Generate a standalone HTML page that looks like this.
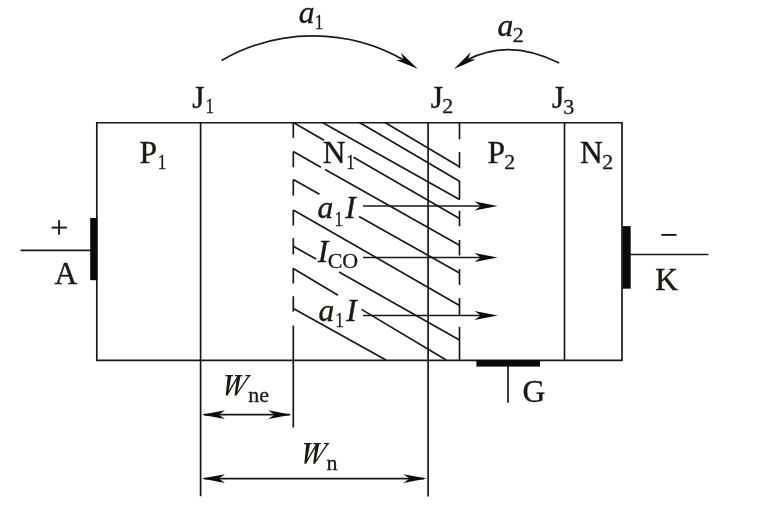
<!DOCTYPE html>
<html><head><meta charset="utf-8"><style>
html,body{margin:0;padding:0;background:#fff;}
svg{display:block;will-change:transform;}
text{font-family:"Liberation Serif",serif;fill:#1a1a10;stroke:#1a1a10;stroke-width:0.4px;}
text.s{stroke-width:0.3px;}
</style></head><body>
<svg width="769" height="517" viewBox="0 0 769 517">
<rect width="769" height="517" fill="#fff"/>
<line x1="96.8" y1="122.75" x2="622.0" y2="122.75" stroke="#1a1a12" stroke-width="1.7"/>
<line x1="96.8" y1="360.35" x2="622.0" y2="360.35" stroke="#1a1a12" stroke-width="1.7"/>
<line x1="96.8" y1="122.0" x2="96.8" y2="361.1" stroke="#1a1a12" stroke-width="1.7"/>
<line x1="622.0" y1="122.0" x2="622.0" y2="361.1" stroke="#1a1a12" stroke-width="1.7"/>
<line x1="200.6" y1="122.75" x2="200.6" y2="496.2" stroke="#1a1a12" stroke-width="1.7"/>
<line x1="428.1" y1="122.75" x2="428.1" y2="496.4" stroke="#1a1a12" stroke-width="1.7"/>
<line x1="564.5" y1="122.75" x2="564.5" y2="360.35" stroke="#1a1a12" stroke-width="1.7"/>
<line x1="293.3" y1="122.4" x2="293.3" y2="137.8" stroke="#1a1a12" stroke-width="1.7"/>
<line x1="293.3" y1="151.6" x2="293.3" y2="167.3" stroke="#1a1a12" stroke-width="1.7"/>
<line x1="293.3" y1="179.6" x2="293.3" y2="195.7" stroke="#1a1a12" stroke-width="1.7"/>
<line x1="293.3" y1="209.9" x2="293.3" y2="225.5" stroke="#1a1a12" stroke-width="1.7"/>
<line x1="293.3" y1="238.2" x2="293.3" y2="254.4" stroke="#1a1a12" stroke-width="1.7"/>
<line x1="293.3" y1="267.9" x2="293.3" y2="283.5" stroke="#1a1a12" stroke-width="1.7"/>
<line x1="293.3" y1="296.2" x2="293.3" y2="311.7" stroke="#1a1a12" stroke-width="1.7"/>
<line x1="293.3" y1="325.6" x2="293.3" y2="427.5" stroke="#1a1a12" stroke-width="1.7"/>
<line x1="459.5" y1="122.4" x2="459.5" y2="139.4" stroke="#1a1a12" stroke-width="1.7"/>
<line x1="459.5" y1="152.1" x2="459.5" y2="168.2" stroke="#1a1a12" stroke-width="1.7"/>
<line x1="459.5" y1="181.0" x2="459.5" y2="199.6" stroke="#1a1a12" stroke-width="1.7"/>
<line x1="459.5" y1="210.8" x2="459.5" y2="226.3" stroke="#1a1a12" stroke-width="1.7"/>
<line x1="459.5" y1="239.9" x2="459.5" y2="255.5" stroke="#1a1a12" stroke-width="1.7"/>
<line x1="459.5" y1="269.0" x2="459.5" y2="284.9" stroke="#1a1a12" stroke-width="1.7"/>
<line x1="459.5" y1="298.1" x2="459.5" y2="315.4" stroke="#1a1a12" stroke-width="1.7"/>
<line x1="459.5" y1="326.9" x2="459.5" y2="360.0" stroke="#1a1a12" stroke-width="1.7"/>
<line x1="385.0" y1="122.4" x2="459.5" y2="166.8" stroke="#1a1a12" stroke-width="1.7"/>
<line x1="359.5" y1="122.4" x2="459.5" y2="181.2" stroke="#1a1a12" stroke-width="1.7"/>
<line x1="322.4" y1="122.4" x2="459.5" y2="199.6" stroke="#1a1a12" stroke-width="1.7"/>
<line x1="293.3" y1="122.4" x2="324.0" y2="140.17" stroke="#1a1a12" stroke-width="1.7"/>
<line x1="353.5" y1="157.25" x2="459.5" y2="218.6" stroke="#1a1a12" stroke-width="1.7"/>
<line x1="293.3" y1="151.6" x2="320.9" y2="167.16" stroke="#1a1a12" stroke-width="1.7"/>
<line x1="325.1" y1="169.53" x2="459.5" y2="245.3" stroke="#1a1a12" stroke-width="1.7"/>
<line x1="293.3" y1="179.6" x2="319.5" y2="194.32" stroke="#1a1a12" stroke-width="1.7"/>
<line x1="359.0" y1="216.52" x2="459.5" y2="273.0" stroke="#1a1a12" stroke-width="1.7"/>
<line x1="293.3" y1="209.9" x2="459.5" y2="305.5" stroke="#1a1a12" stroke-width="1.7"/>
<line x1="293.3" y1="246.2" x2="316.1" y2="259.07" stroke="#1a1a12" stroke-width="1.7"/>
<line x1="339.0" y1="271.99" x2="459.5" y2="340.0" stroke="#1a1a12" stroke-width="1.7"/>
<line x1="293.3" y1="268.6" x2="338.0" y2="295.32" stroke="#1a1a12" stroke-width="1.7"/>
<line x1="361.5" y1="309.37" x2="446.2" y2="360.0" stroke="#1a1a12" stroke-width="1.7"/>
<line x1="293.3" y1="308.6" x2="386.0" y2="360.0" stroke="#1a1a12" stroke-width="1.7"/>
<line x1="363.0" y1="206.0" x2="485.0" y2="206.0" stroke="#1a1a12" stroke-width="1.7"/>
<path d="M497.70,206.00 L474.50,210.40 L480.70,206.00 L474.50,201.60 Z" fill="#0e0e08"/>
<line x1="363.0" y1="257.5" x2="485.0" y2="257.5" stroke="#1a1a12" stroke-width="1.7"/>
<path d="M497.70,257.50 L474.50,261.90 L480.70,257.50 L474.50,253.10 Z" fill="#0e0e08"/>
<line x1="363.0" y1="315.5" x2="485.0" y2="315.5" stroke="#1a1a12" stroke-width="1.7"/>
<path d="M497.70,315.50 L474.50,319.90 L480.70,315.50 L474.50,311.10 Z" fill="#0e0e08"/>
<line x1="204" y1="414.7" x2="290" y2="414.7" stroke="#1a1a12" stroke-width="1.7"/>
<path d="M201.80,414.70 L225.00,410.30 L218.80,414.70 L225.00,419.10 Z" fill="#0e0e08"/>
<path d="M291.40,414.70 L268.20,419.10 L274.40,414.70 L268.20,410.30 Z" fill="#0e0e08"/>
<line x1="204" y1="478.6" x2="424" y2="478.6" stroke="#1a1a12" stroke-width="1.7"/>
<path d="M201.80,478.60 L225.00,474.20 L218.80,478.60 L225.00,483.00 Z" fill="#0e0e08"/>
<path d="M426.60,478.60 L403.40,483.00 L409.60,478.60 L403.40,474.20 Z" fill="#0e0e08"/>
<path d="M221.6,60.5 A182.5,182.5 0 0 1 405.5,61.1" fill="none" stroke="#1a1a12" stroke-width="1.7"/>
<path d="M418.00,68.90 L396.10,60.08 L403.69,59.72 L400.85,52.67 Z" fill="#0e0e08"/>
<path d="M559.2,62.9 Q508,37.6 466.5,60.2" fill="none" stroke="#1a1a12" stroke-width="1.7"/>
<path d="M454.00,68.90 L470.65,52.15 L468.02,59.29 L475.62,59.41 Z" fill="#0e0e08"/>
<rect x="90.2" y="218.0" width="7.2" height="62.2" fill="#0a0a06"/>
<line x1="20.5" y1="250.4" x2="91" y2="250.4" stroke="#1a1a12" stroke-width="1.7"/>
<rect x="622.5" y="226.1" width="8.2" height="62.6" fill="#0a0a06"/>
<line x1="630" y1="254.5" x2="708.4" y2="254.5" stroke="#1a1a12" stroke-width="1.7"/>
<rect x="476.4" y="360.0" width="63.6" height="6.6" fill="#0a0a06"/>
<line x1="508.0" y1="366" x2="508.0" y2="402.7" stroke="#1a1a12" stroke-width="1.7"/>
<text x="298.85" y="23.36" font-size="31.5" font-style="italic" class="m">a</text>
<text x="313.66" y="29.42" font-size="22" transform="matrix(0.78,0,0,1,70.215,0)" class="s">1</text>
<text x="497.49" y="36.28" font-size="31.5" font-style="italic" class="m">a</text>
<text x="512.85" y="41.94" font-size="22" class="s">2</text>
<text x="192.22" y="107.94" font-size="31.5" class="m">J</text>
<text x="204.42" y="113.38" font-size="22" transform="matrix(0.78,0,0,1,46.182,0)" class="s">1</text>
<text x="430.74" y="108.34" font-size="31.5" class="m">J</text>
<text x="442.27" y="113.16" font-size="22" class="s">2</text>
<text x="551.99" y="108.44" font-size="31.5" class="m">J</text>
<text x="563.21" y="113.86" font-size="22" class="s">3</text>
<text x="139.58" y="163.32" font-size="31.5" class="m">P</text>
<text x="156.66" y="169.42" font-size="22" transform="matrix(0.78,0,0,1,35.675,0)" class="s">1</text>
<text x="322.69" y="163.32" font-size="31.5" class="m">N</text>
<text x="345.04" y="169.22" font-size="22" transform="matrix(0.78,0,0,1,77.119,0)" class="s">1</text>
<text x="487.49" y="163.32" font-size="31.5" class="m">P</text>
<text x="504.36" y="169.42" font-size="22" class="s">2</text>
<text x="579.89" y="163.32" font-size="31.5" class="m">N</text>
<text x="602.27" y="168.9" font-size="22" class="s">2</text>
<text x="317.6" y="217.75" font-size="31.5" font-style="italic" class="m">a</text>
<text x="333.3" y="225.9" font-size="22" transform="matrix(0.78,0,0,1,74.536,0)" class="s">1</text>
<text x="345.24" y="217.78" font-size="31.5" font-style="italic" class="m">I</text>
<text x="317.63" y="261.66" font-size="31.5" font-style="italic" class="m">I</text>
<text x="327.63" y="267.85" font-size="22" class="s">CO</text>
<text x="318.39" y="320.94" font-size="31.5" font-style="italic" class="m">a</text>
<text x="333.99" y="327.22" font-size="22" transform="matrix(0.78,0,0,1,74.688,0)" class="s">1</text>
<text x="346.34" y="320.78" font-size="31.5" font-style="italic" class="m">I</text>
<text x="54.55" y="283.91" font-size="31.5" class="m">A</text>
<text x="655.32" y="289.78" font-size="31.5" class="m">K</text>
<text x="522.53" y="402.18" font-size="31.5" class="m">G</text>
<text x="248.32" y="402.06" font-size="22" class="s">ne</text>
<text x="326.56" y="470.4" font-size="22" class="s">n</text>
<path d="M225.4,374.9 H233.0 V376.2 H225.4 Z M227.7,375.8 L231.4,375.8 L227.8,395.6 L225.7,395.6 Z M225.9,395.6 L237.3,376.2 L238.9,376.2 L227.9,394.8 Z M234.8,374.9 H242.3 V376.2 H234.8 Z M237.0,375.8 L240.6,375.8 L236.7,395.6 L234.6,395.6 Z M234.9,395.6 L248.1,375.9 L249.8,375.9 L236.8,394.8 Z M245.4,374.9 H250.7 V376.2 H245.4 Z" fill="#1a1a10"/>
<path d="M225.4,374.9 H233.0 V376.2 H225.4 Z M227.7,375.8 L231.4,375.8 L227.8,395.6 L225.7,395.6 Z M225.9,395.6 L237.3,376.2 L238.9,376.2 L227.9,394.8 Z M234.8,374.9 H242.3 V376.2 H234.8 Z M237.0,375.8 L240.6,375.8 L236.7,395.6 L234.6,395.6 Z M234.9,395.6 L248.1,375.9 L249.8,375.9 L236.8,394.8 Z M245.4,374.9 H250.7 V376.2 H245.4 Z" fill="#1a1a10" transform="translate(78.6,68.1)"/>
<rect x="51.7" y="226.65" width="15.2" height="1.9" fill="#1a1a10"/>
<rect x="58.15" y="220.1" width="1.9" height="14.6" fill="#1a1a10"/>
<rect x="661.4" y="233.95" width="15.1" height="1.9" fill="#1a1a10"/>
</svg>
</body></html>
